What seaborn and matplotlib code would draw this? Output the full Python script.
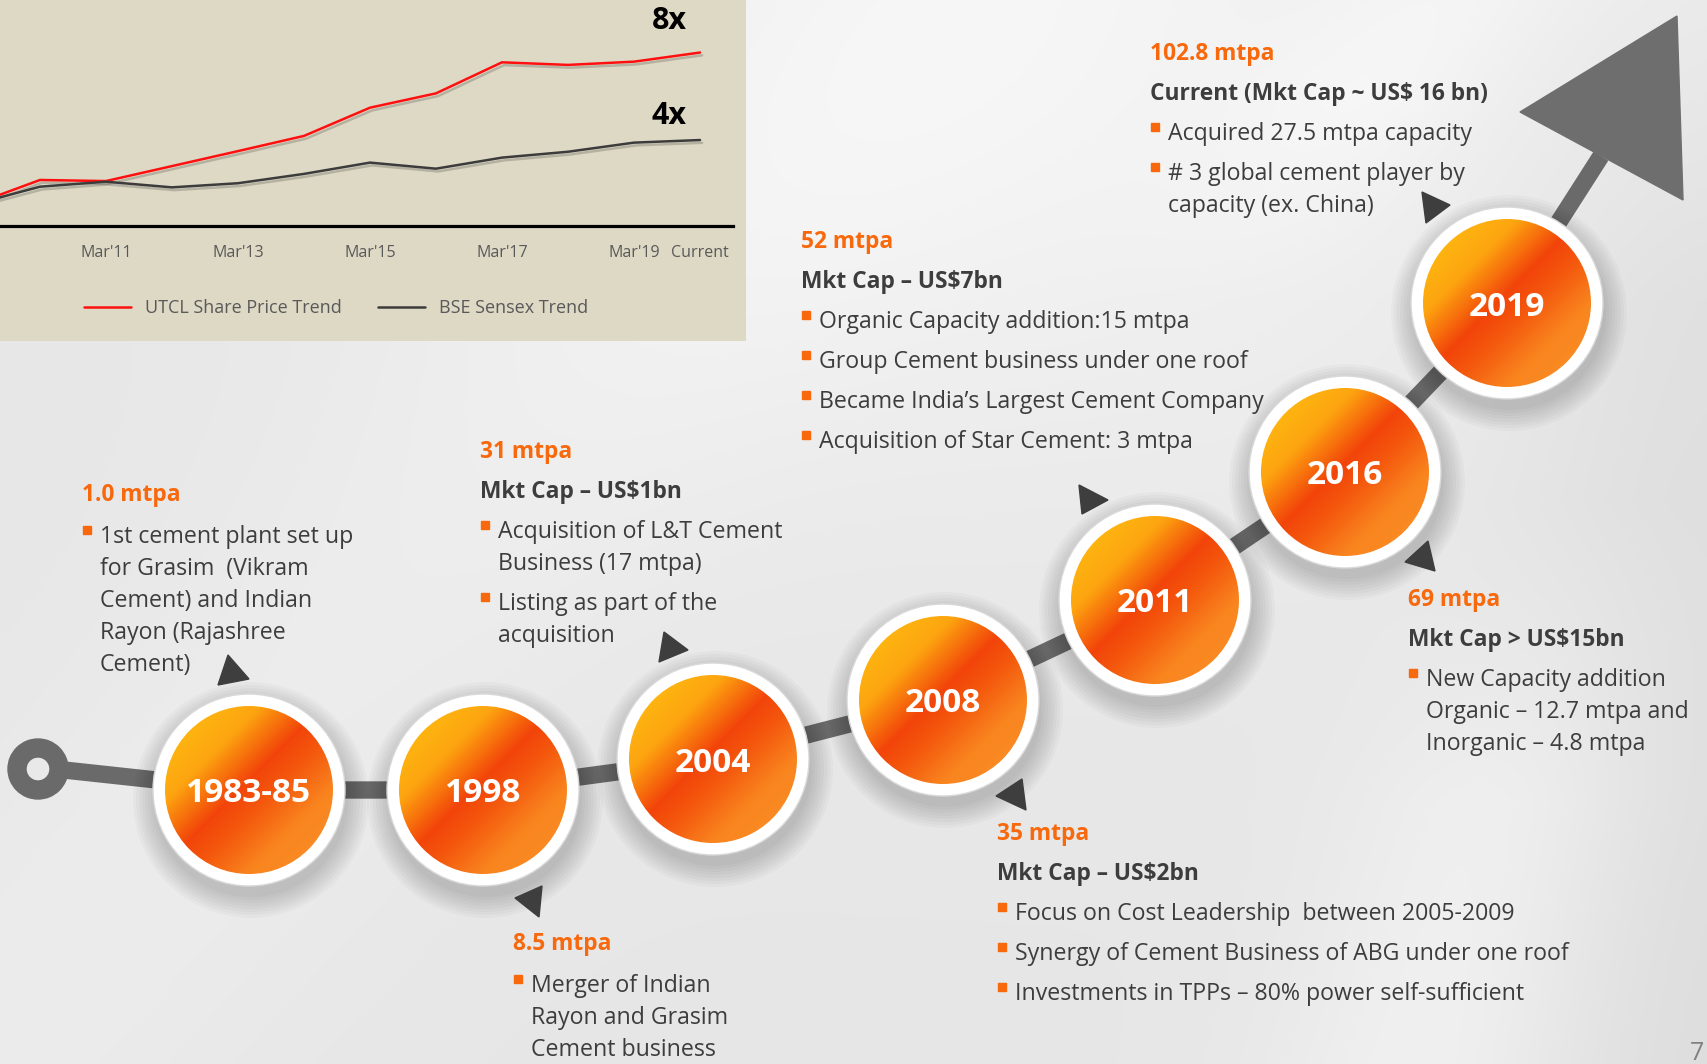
import numpy as np
import pandas as pd
import seaborn as sns
import matplotlib
matplotlib.use("Agg")
import matplotlib.pyplot as plt
from matplotlib.patches import Circle, Rectangle, Polygon, Annulus
from matplotlib.colors import LinearSegmentedColormap
import matplotlib.patheffects as pe
import matplotlib.transforms as mtransforms

# ---------------- data ----------------
periods = ["Mar'09", "Mar'10", "Mar'11", "Mar'12", "Mar'13", "Mar'14",
           "Mar'15", "Mar'16", "Mar'17", "Mar'18", "Mar'19", "Current"]
utcl_trend = [1.0, 2.12, 2.07, 2.76, 3.45, 4.15, 5.45, 6.11, 7.54, 7.42, 7.57, 7.99]
sensex_trend = [1.0, 1.81, 2.04, 1.78, 1.97, 2.40, 2.92, 2.64, 3.15, 3.42, 3.84, 3.96]
series_names = ["UTCL Share Price Trend", "BSE Sensex Trend"]
tick_labels = ["Mar'09", "Mar'11", "Mar'13", "Mar'15", "Mar'17", "Mar'19", "Current"]

years = ["1983-85", "1998", "2004", "2008", "2011", "2016", "2019"]

capacity = ["1.0 mtpa", "8.5 mtpa", "31 mtpa", "35 mtpa", "52 mtpa", "69 mtpa", "102.8 mtpa"]
mkt_cap = [None, None, "Mkt Cap – US$1bn", "Mkt Cap – US$2bn", "Mkt Cap – US$7bn",
           "Mkt Cap > US$15bn", "Current (Mkt Cap ~ US$ 16 bn)"]
bullets = [
    [["1st cement plant set up", "for Grasim  (Vikram", "Cement) and Indian",
      "Rayon (Rajashree", "Cement)"]],
    [["Merger of Indian", "Rayon and Grasim", "Cement business"]],
    [["Acquisition of L&T Cement", "Business (17 mtpa)"],
     ["Listing as part of the", "acquisition"]],
    [["Focus on Cost Leadership  between 2005-2009"],
     ["Synergy of Cement Business of ABG under one roof"],
     ["Investments in TPPs – 80% power self-sufficient"]],
    [["Organic Capacity addition:15 mtpa"], ["Group Cement business under one roof"],
     ["Became India’s Largest Cement Company"], ["Acquisition of Star Cement: 3 mtpa"]],
    [["New Capacity addition", "Organic – 12.7 mtpa and", "Inorganic – 4.8 mtpa"]],
    [["Acquired 27.5 mtpa capacity"], ["# 3 global cement player by", "capacity (ex. China)"]],
]
page_number = "7"

# ---------------- layout (pixels) ----------------
W, H = 1708, 1064
circle_centers = [(249, 790), (483, 790), (713, 759), (943, 700), (1155, 600), (1345, 472), (1507, 303)]
R_OUT, R_IN = 96, 84
ring_center = (38, 769)
RING_R, RING_W = 30, 18
arrow_base = (1601, 156)
arrow_head = [(1677, 16), (1520, 112), (1683, 200)]
block_pos = [(82, 492), (513, 941), (480, 449), (997, 831), (801, 239), (1408, 597), (1150, 51)]
pointers = [
    [(218, 685), (228, 655), (249, 679)],
    [(515, 898), (542, 886), (539, 917)],
    [(659, 662), (664, 632), (688, 650)],
    [(996, 796), (1022, 779), (1026, 810)],
    [(1079, 485), (1108, 500), (1082, 514)],
    [(1428, 541), (1405, 562), (1435, 571)],
    [(1422, 192), (1450, 205), (1426, 223)],
]

ORANGE = "#F8680C"
DARK = "#3D3D3D"
PATHGRAY = "#6A6A6A"

sns.set_theme(style="white")
plt.rcParams["font.family"] = ["Open Sans", "DejaVu Sans"]

fig = plt.figure(figsize=(W / 100, H / 100), dpi=100)
ax = fig.add_axes([0, 0, 1, 1])
ax.set_xlim(0, W)
ax.set_ylim(H, 0)
ax.axis("off")

# ---------------- background ----------------
yy, xx = np.mgrid[0:H:2, 0:W:2].astype(float)
bg = 0.905 * np.ones_like(xx)
bg += 0.045 * np.exp(-(((xx - 1050) / 450) ** 2 + ((yy - 80) / 300) ** 2) / 2)
bg += 0.04 * np.exp(-((((xx - 1430) + 0.30 * (yy - 1064)) / 110) ** 2) / 2) * np.clip((yy - 500) / 300, 0, 1)
bg += 0.02 * np.exp(-((((xx - 300) + 0.9 * (yy - 700)) / 200) ** 2) / 2)
bg += 0.025 * np.exp(-((((xx - 1250) + 0.8 * (yy - 250)) / 90) ** 2) / 2) * np.clip((300 - yy) / 200, 0, 1)
bg -= 0.035 * np.exp(-(((xx - W) / 140) ** 2) / 2) * np.clip(yy / 300, 0, 1)
bg = np.clip(bg, 0, 1)
ax.imshow(np.dstack([bg, bg, bg]), extent=(0, W, H, 0), aspect="auto", zorder=0,
          interpolation="bilinear")

# beige inset panel
ax.add_patch(Rectangle((0, 0), 746, 341, facecolor="#DED9C5", edgecolor="none", zorder=1))

# ---------------- timeline path ----------------
px = [ring_center[0] + RING_R - 4] + [c[0] for c in circle_centers] + [arrow_base[0]]
py = [ring_center[1] + 1] + [c[1] for c in circle_centers] + [arrow_base[1]]
ax.plot(px, py, color=PATHGRAY, lw=12.5, solid_capstyle="butt", solid_joinstyle="round", zorder=1.5)
ax.add_patch(Annulus(ring_center, RING_R, RING_W, color=PATHGRAY, zorder=1.6))
ax.add_patch(Polygon(arrow_head, closed=True, color="#6E6E6E", zorder=1.6))

# ---------------- circles ----------------
orange_cmap = LinearSegmentedColormap.from_list(
    "ultra", [(0.0, "#FFC412"), (0.28, "#FDA510"), (0.47, "#F2440A"),
              (0.58, "#F4580D"), (0.75, "#F9851F"), (1.0, "#FA9028")])
N = 220
u, v = np.meshgrid(np.linspace(-1, 1, N), np.linspace(-1, 1, N))
grad = (u + v + 2) / 4

for (cx, cy), yr in zip(circle_centers, years):
    for k in range(8):
        ax.add_patch(Circle((cx + 2, cy + 10), R_OUT + 1 + k * 3, facecolor="black",
                            edgecolor="none", alpha=0.025, zorder=2))
    ax.add_patch(Circle((cx, cy), R_OUT, facecolor="white", edgecolor="#D8D8D8", lw=1, zorder=3))
    im = ax.imshow(grad, extent=(cx - R_IN, cx + R_IN, cy + R_IN, cy - R_IN), cmap=orange_cmap,
                   vmin=0, vmax=1, aspect="auto", zorder=4, interpolation="bilinear")
    clip = Circle((cx, cy), R_IN, transform=ax.transData)
    im.set_clip_path(clip)
    ax.text(cx, cy, yr, color="white", fontsize=24, fontweight="bold", ha="center",
            va="center_baseline", zorder=5)

# ---------------- pointers ----------------
for tri in pointers:
    ax.add_patch(Polygon(tri, closed=True, color="#3E3E3E", zorder=3))

# ---------------- text blocks ----------------
BODY = 16.7
HEAD = 16.4
for (hx, hy), head, sub, bl in zip(block_pos, capacity, mkt_cap, bullets):
    ax.text(hx, hy, head, color=ORANGE, fontsize=HEAD, fontweight="bold",
            ha="left", va="center_baseline", zorder=6)
    y = hy + 42
    if sub is not None:
        ax.text(hx, hy + 40, sub, color=DARK, fontsize=HEAD, fontweight="bold",
                ha="left", va="center_baseline", zorder=6)
        y = hy + 80
    for item in bl:
        ax.add_patch(Rectangle((hx + 1, y - 8), 8, 8, color=ORANGE, zorder=6))
        for j, line in enumerate(item):
            ax.text(hx + 18, y, line, color=DARK, fontsize=BODY, ha="left",
                    va="center_baseline", zorder=6)
            if j < len(item) - 1:
                y += 32
        y += 40

ax.text(1697, 1051, page_number, color="#808080", fontsize=18, ha="center", va="center_baseline")

# ---------------- inset line chart ----------------
ax_in = fig.add_axes([0, 1 - 226 / H, 733 / W, 226 / H])
ax_in.set_zorder(10)
ax_in.patch.set_alpha(0)
df = pd.DataFrame({
    "idx": list(range(len(periods))) * 2,
    "value": utcl_trend + sensex_trend,
    "series": [series_names[0]] * len(periods) + [series_names[1]] * len(periods),
})
sns.lineplot(data=df, x="idx", y="value", hue="series",
             palette={series_names[0]: "#FF1010", series_names[1]: "#3C3C3C"},
             linewidth=1.8, ax=ax_in)
for ln in ax_in.lines:
    ln.set_path_effects([pe.SimpleLineShadow(offset=(1.5, -2), alpha=0.18, shadow_color="black"),
                         pe.Normal()])
ax_in.set_xlim(0.394, 11.5)
ax_in.set_ylim(0, 10.41)
for s in ["top", "left", "right"]:
    ax_in.spines[s].set_visible(False)
ax_in.spines["bottom"].set_color("black")
ax_in.spines["bottom"].set_linewidth(2.3)
pos = [periods.index(t) for t in tick_labels]
ax_in.set_xticks(pos[1:])
ax_in.set_xticklabels(tick_labels[1:])
ax_in.tick_params(axis="x", length=0, pad=14, labelsize=11.5, labelcolor="#595959")
ax_in.set_yticks([])
ax_in.set_xlabel("")
ax_in.set_ylabel("")
trans = mtransforms.blended_transform_factory(ax_in.transData, ax_in.transAxes)
ax_in.text(pos[0], -0.125, tick_labels[0], transform=trans, ha="center", va="center_baseline",
           fontsize=11.5, color="#595959", clip_on=False)

leg = ax_in.get_legend()
handles = leg.legend_handles
labels = [t.get_text() for t in leg.get_texts()]
leg.remove()
ax_in.legend(handles, labels, loc="center", bbox_to_anchor=(336 / W, 1 - 308 / H),
             bbox_transform=fig.transFigure, ncol=2, frameon=False, handlelength=2.6,
             columnspacing=2.0, fontsize=13, labelcolor="#595959")

ax_in.text(10.53, 9.59, f"{round(utcl_trend[-1] / utcl_trend[0])}x", fontsize=22,
           fontweight="bold", ha="center", va="center_baseline", color="black")
ax_in.text(10.53, 5.25, f"{round(sensex_trend[-1] / sensex_trend[0])}x", fontsize=22,
           fontweight="bold", ha="center", va="center_baseline", color="black")

ax.set_xlim(0, W)
ax.set_ylim(H, 0)
fig.savefig("out.png", dpi=100)
